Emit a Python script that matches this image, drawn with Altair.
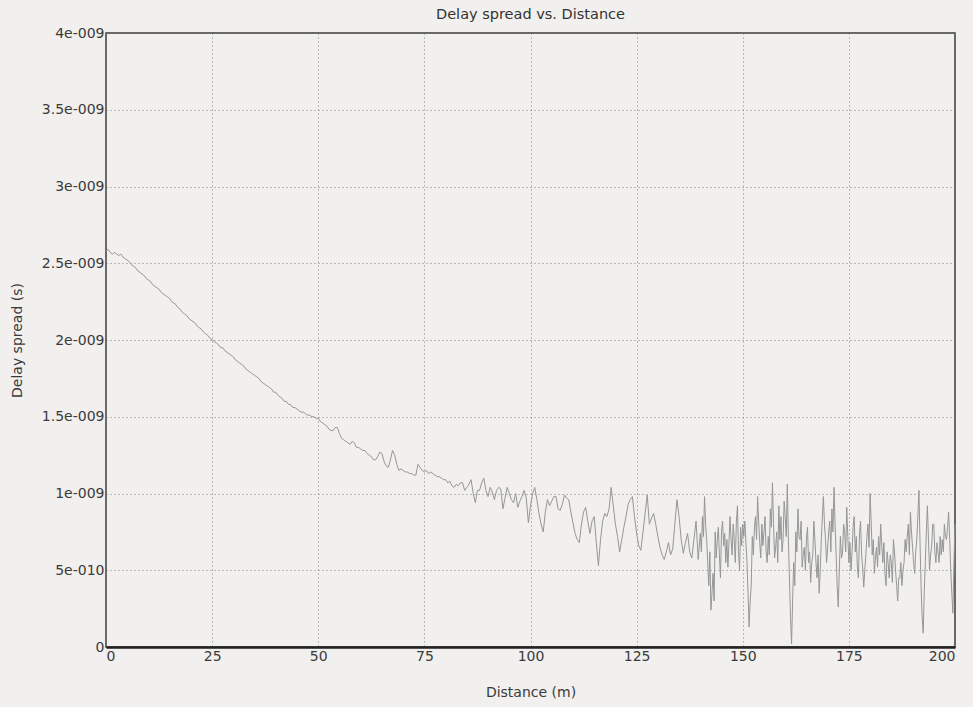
import altair as alt
import numpy as np
import pandas as pd

# delay spread, in nanoseconds (converted to seconds below)
# coarse part: 0 .. 140 m every 0.5 m
SEG_0_25 = [2.58, 2.59, 2.57, 2.56, 2.57, 2.56, 2.55, 2.56, 2.54, 2.53,
            2.52, 2.51, 2.49, 2.48, 2.47, 2.45, 2.44, 2.43, 2.42, 2.40,
            2.39, 2.38, 2.36, 2.35, 2.34, 2.33, 2.31, 2.30, 2.29, 2.28,
            2.27, 2.25, 2.24, 2.23, 2.21, 2.20, 2.18, 2.17, 2.16, 2.14,
            2.13, 2.12, 2.11, 2.09, 2.08, 2.07, 2.05, 2.04, 2.03, 2.01,
            2.00]
SEG_25_50 = [1.99, 1.98, 1.97, 1.95, 1.95, 1.93, 1.92, 1.91, 1.90, 1.89,
             1.87, 1.86, 1.85, 1.84, 1.83, 1.81, 1.80, 1.79, 1.78, 1.77,
             1.76, 1.75, 1.73, 1.72, 1.71, 1.70, 1.69, 1.68, 1.66, 1.66,
             1.64, 1.63, 1.62, 1.60, 1.60, 1.58, 1.58, 1.56, 1.56, 1.55,
             1.54, 1.53, 1.53, 1.52, 1.51, 1.51, 1.50, 1.50, 1.49, 1.49]
SEG_50_75 = [1.47, 1.46, 1.45, 1.44, 1.42, 1.41, 1.41, 1.43, 1.43, 1.39,
             1.36, 1.35, 1.34, 1.33, 1.32, 1.34, 1.33, 1.30, 1.30, 1.29,
             1.28, 1.28, 1.26, 1.25, 1.24, 1.22, 1.22, 1.24, 1.27, 1.26,
             1.21, 1.18, 1.17, 1.22, 1.28, 1.25, 1.19, 1.15, 1.16, 1.15,
             1.14, 1.14, 1.13, 1.13, 1.12, 1.12, 1.19, 1.17, 1.15, 1.14]
SEG_75_100 = [1.15, 1.13, 1.14, 1.13, 1.12, 1.11, 1.11, 1.10, 1.09, 1.09,
              1.07, 1.08, 1.05, 1.04, 1.06, 1.05, 1.07, 1.07, 1.02, 1.04,
              1.06, 1.09, 1.00, 0.94, 1.02, 1.02, 1.07, 1.10, 1.02, 0.98,
              1.04, 1.01, 0.96, 1.02, 1.04, 1.03, 0.90, 0.97, 1.04, 1.00,
              0.96, 0.94, 1.00, 0.91, 0.95, 0.98, 1.02, 0.97, 0.81, 0.92]
SEG_100_125 = [1.00, 1.04, 0.96, 0.87, 0.80, 0.75, 0.88, 0.96, 0.92, 0.95,
               0.98, 0.98, 0.90, 0.89, 0.93, 0.99, 0.97, 0.96, 0.88, 0.81,
               0.74, 0.70, 0.68, 0.80, 0.88, 0.91, 0.82, 0.74, 0.82, 0.85,
               0.68, 0.53, 0.70, 0.82, 0.87, 0.85, 0.90, 1.04, 0.92, 0.80,
               0.72, 0.62, 0.70, 0.78, 0.85, 0.93, 0.96, 0.98, 0.85, 0.74]
SEG_125_140 = [0.66, 0.63, 0.75, 0.87, 0.99, 0.80, 0.84, 0.87, 0.80, 0.72,
               0.65, 0.60, 0.57, 0.62, 0.68, 0.60, 0.64, 0.80, 0.96, 0.85,
               0.70, 0.61, 0.68, 0.74, 0.62, 0.58, 0.70, 0.82, 0.57, 0.74]

# fine part: 140.25 .. 200 m every 0.25 m (one row per metre)
SEG_140_200 = [
    0.62, 0.85, 0.72, 0.98,   # 140
    0.80, 0.70, 0.55, 0.40,   # 141
    0.62, 0.24, 0.35, 0.48,   # 142
    0.30, 0.75, 0.58, 0.70,   # 143
    0.78, 0.60, 0.45, 0.76,   # 144
    0.82, 0.66, 0.74, 0.55,   # 145
    0.70, 0.52, 0.68, 0.85,   # 146
    0.70, 0.60, 0.80, 0.70,   # 147
    0.55, 0.82, 0.92, 0.62,   # 148
    0.50, 0.78, 0.66, 0.80,   # 149
    0.72, 0.82, 0.68, 0.55,   # 150
    0.35, 0.13, 0.30, 0.40,   # 151
    0.72, 0.60, 0.78, 0.85,   # 152
    0.70, 0.98, 0.82, 0.68,   # 153
    0.58, 0.80, 0.66, 0.75,   # 154
    0.85, 0.62, 0.55, 0.72,   # 155
    0.60, 0.90, 0.78, 1.07,   # 156
    0.80, 0.58, 0.65, 0.75,   # 157
    0.55, 0.92, 0.70, 0.85,   # 158
    0.62, 0.70, 0.95, 0.85,   # 159
    0.72, 1.06, 0.70, 0.45,   # 160
    0.20, 0.02, 0.30, 0.55,   # 161
    0.40, 0.75, 0.62, 0.90,   # 162
    0.72, 0.70, 0.82, 0.52,   # 163
    0.60, 0.65, 0.50, 0.70,   # 164
    0.78, 0.55, 0.62, 0.42,   # 165
    0.55, 0.60, 0.82, 0.70,   # 166
    0.55, 0.45, 0.60, 0.35,   # 167
    0.50, 0.70, 0.85, 0.98,   # 168
    0.80, 0.70, 0.55, 0.65,   # 169
    0.75, 0.82, 0.62, 0.90,   # 170
    0.75, 1.04, 0.80, 0.60,   # 171
    0.40, 0.26, 0.50, 0.72,   # 172
    0.58, 0.61, 0.80, 0.75,   # 173
    0.62, 0.91, 0.72, 0.55,   # 174
    0.68, 0.50, 0.62, 0.78,   # 175
    0.85, 0.62, 0.72, 0.52,   # 176
    0.45, 0.74, 0.82, 0.60,   # 177
    0.52, 0.39, 0.50, 0.60,   # 178
    0.72, 0.80, 0.65, 1.00,   # 179
    0.82, 0.60, 0.70, 0.48,   # 180
    0.58, 0.65, 0.52, 0.72,   # 181
    0.60, 0.80, 0.66, 0.55,   # 182
    0.68, 0.48, 0.40, 0.62,   # 183
    0.55, 0.45, 0.60, 0.55,   # 184
    0.42, 0.70, 0.62, 0.50,   # 185
    0.40, 0.30, 0.45, 0.45,   # 186
    0.55, 0.40, 0.50, 0.55,   # 187
    0.70, 0.62, 0.72, 0.80,   # 188
    0.60, 0.88, 0.75, 0.65,   # 189
    0.55, 0.48, 0.62, 0.70,   # 190
    0.85, 1.02, 0.70, 0.40,   # 191
    0.20, 0.09, 0.35, 0.55,   # 192
    0.75, 0.92, 0.70, 0.50,   # 193
    0.60, 0.65, 0.80, 0.80,   # 194
    0.62, 0.55, 0.68, 0.62,   # 195
    0.55, 0.72, 0.60, 0.70,   # 196
    0.62, 0.80, 0.72, 0.70,   # 197
    0.78, 0.88, 0.70, 0.50,   # 198
    0.35, 0.22, 0.55, 0.80,   # 199
]

Y_TICKS = [0, 5e-10, 1e-9, 1.5e-9, 2e-9, 2.5e-9, 3e-9, 3.5e-9, 4e-9]
X_TICKS = [0, 25, 50, 75, 100, 125, 150, 175, 200]

coarse_ns = SEG_0_25 + SEG_25_50 + SEG_50_75 + SEG_75_100 + SEG_100_125 + SEG_125_140
coarse_x = np.arange(0.0, 140.0 + 0.25, 0.5)[:len(coarse_ns)]
fine_x = np.arange(140.25, 200.0 + 0.125, 0.25)[:len(SEG_140_200)]

df = pd.DataFrame({
    "distance": np.concatenate([coarse_x, fine_x]),
    "delay": np.array(coarse_ns[:len(coarse_x)] + SEG_140_200[:len(fine_x)]) * 1e-9,
})

FONT = "DejaVu Sans"

line = alt.Chart(df).mark_line(color="#969696", strokeWidth=1, interpolate="linear").encode(
    x=alt.X("distance:Q",
            scale=alt.Scale(domain=[0, 200], nice=False, zero=False),
            axis=alt.Axis(values=X_TICKS, title="Distance (m)", tickSize=0,
                          labelPadding=2, titlePadding=22, format="d",
                          domain=True, domainColor="#222", domainWidth=2.5)),
    y=alt.Y("delay:Q",
            scale=alt.Scale(domain=[0, 4e-9], nice=False),
            axis=alt.Axis(values=Y_TICKS, title="Delay spread (s)", tickSize=0,
                          labelPadding=2, titlePadding=17, domain=False,
                          labelExpr="datum.value == 0 ? '0' : (datum.value < 9.9e-10 ? "
                                    "format(datum.value * 1e10, '.1~f') + 'e-010' : "
                                    "format(datum.value * 1e9, '.1~f') + 'e-009')")),
)

chart = line.properties(
    width=849,
    height=614,
    title=alt.TitleParams("Delay spread vs. Distance", fontSize=14.5, font=FONT,
                          fontWeight="normal", color="#333", offset=4, anchor="middle"),
    padding={"left": 106, "top": 33, "right": 18, "bottom": 60},
    autosize="none",
    background="#f1f0ee",
).configure_view(
    stroke="#3a3a3a", strokeWidth=1.5
).configure_axis(
    labelFont=FONT, titleFont=FONT, labelFontSize=14, titleFontSize=14,
    labelColor="#3a3a3a", titleColor="#3a3a3a", titleFontWeight="normal",
    grid=True, gridColor="#777", gridDash=[1, 3], gridWidth=1, gridOpacity=0.9,
)

chart.save("out.html", embed_options={"renderer": "svg", "actions": False})
